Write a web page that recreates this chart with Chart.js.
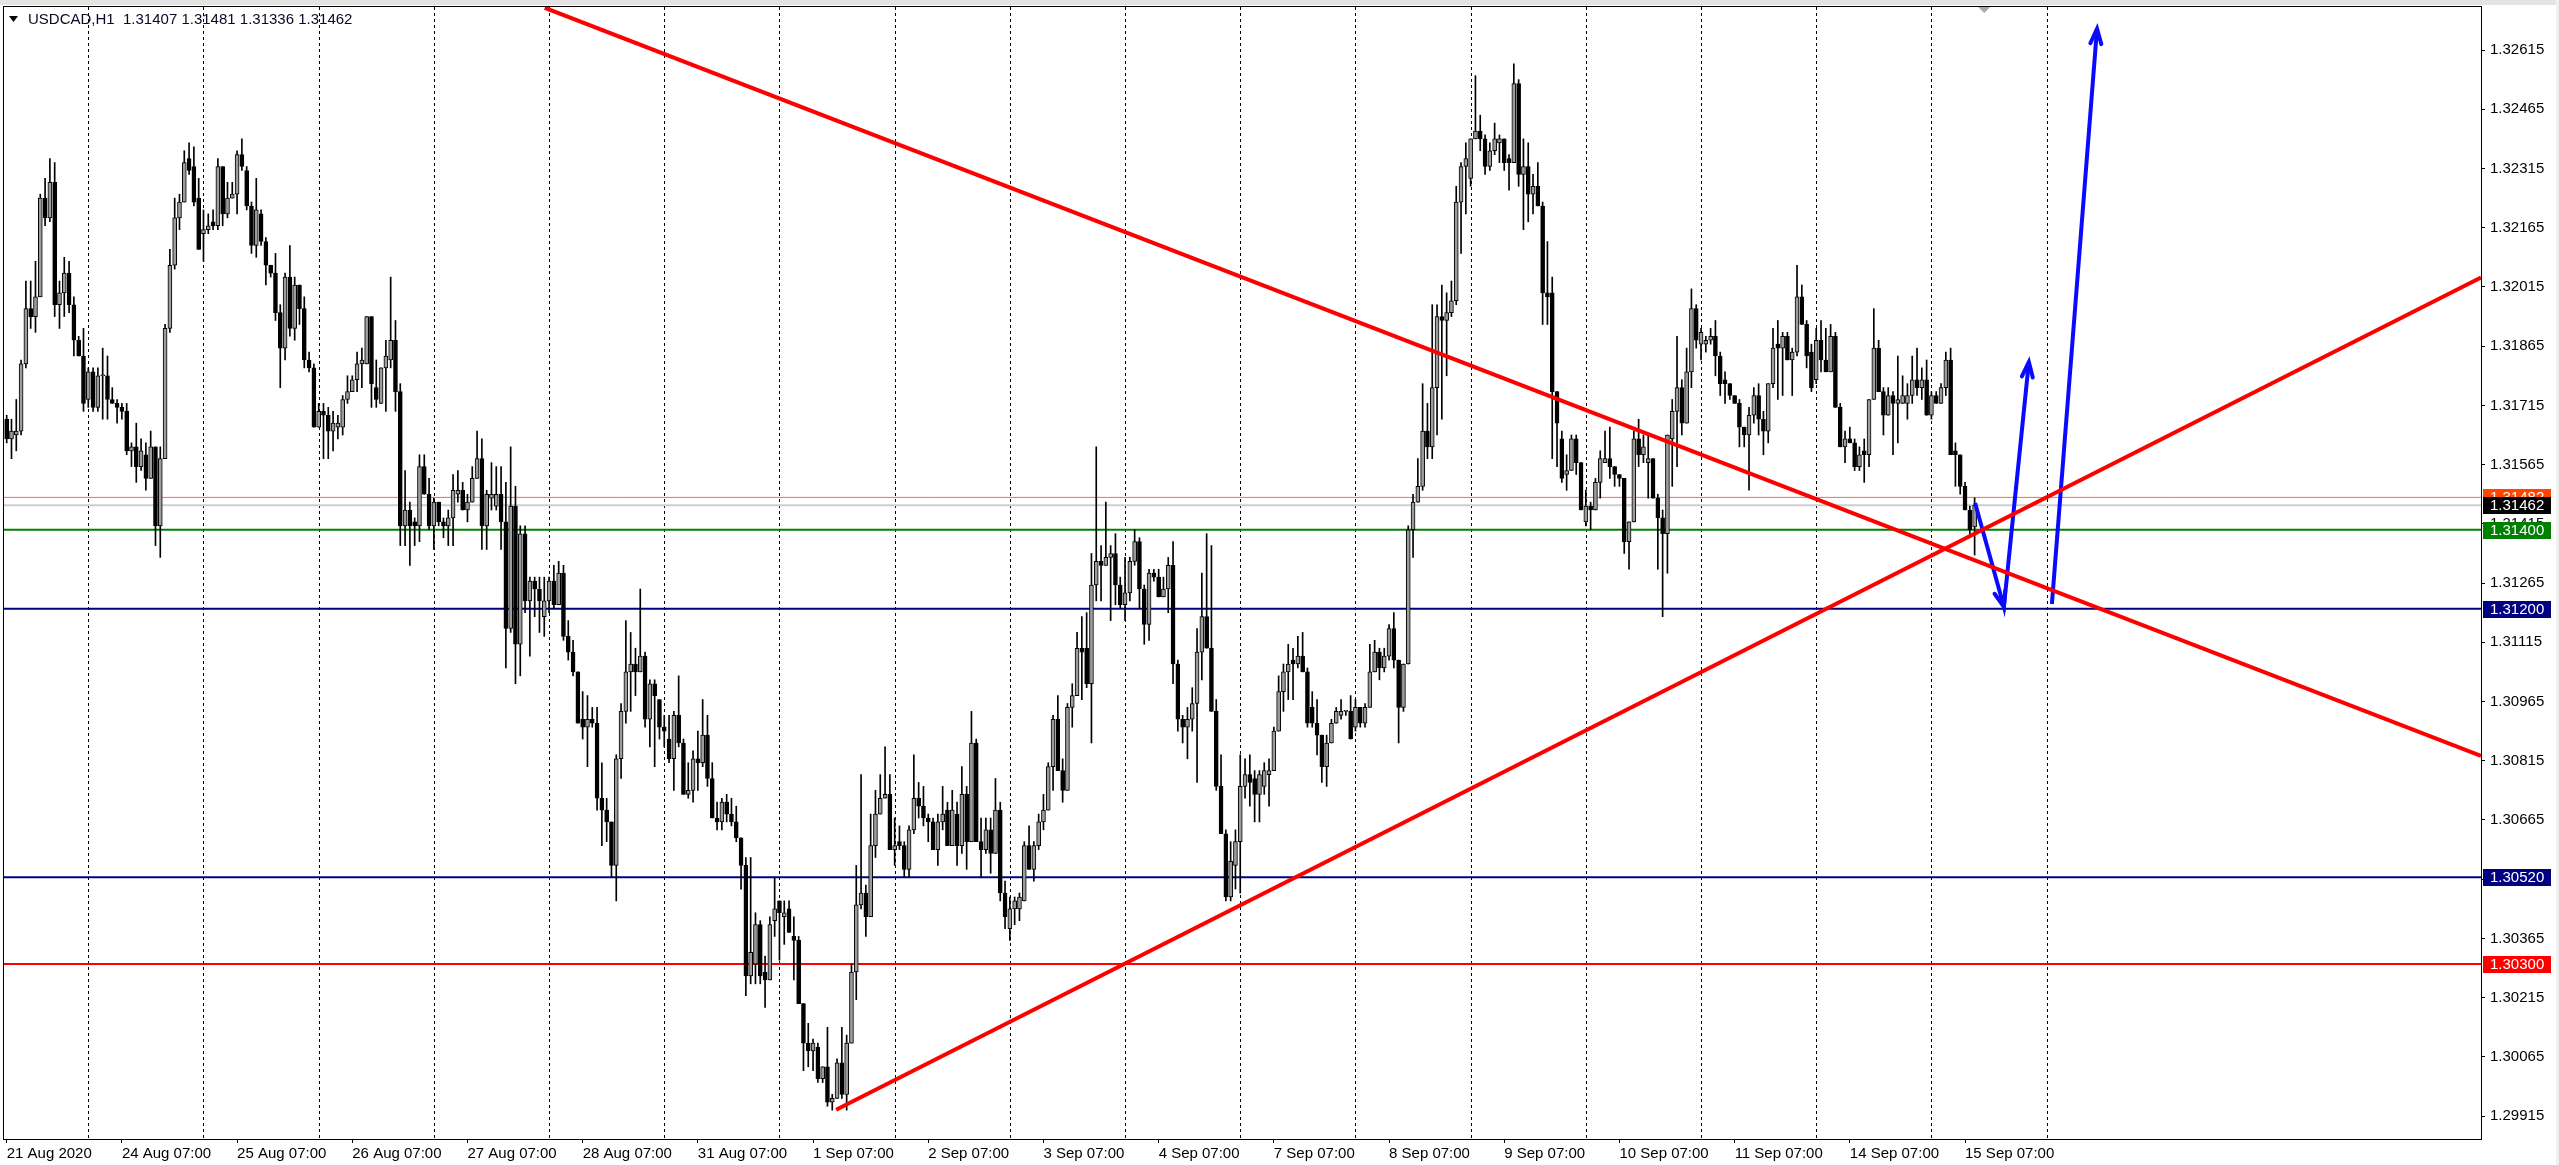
<!DOCTYPE html>
<html>
<head>
<meta charset="utf-8">
<script src="https://cdn.jsdelivr.net/npm/chart.js@4.4.1/dist/chart.umd.min.js"></script>
<style>
  html, body { margin: 0; padding: 0; background: #fff; overflow: hidden; }
</style>
</head>
<body>
<canvas id="myChart" width="2559" height="1165"></canvas>
<script>
// ---- data ----
const symbolTitle = 'USDCAD,H1';
const lastQuote = ['1.31407', '1.31481', '1.31336', '1.31462'];
const firstLabel = '21 Aug 2020';
const dayNames = ['24 Aug', '25 Aug', '26 Aug', '27 Aug', '28 Aug', '31 Aug', '1 Sep', '2 Sep', '3 Sep',
                  '4 Sep', '7 Sep', '8 Sep', '9 Sep', '10 Sep', '11 Sep', '14 Sep', '15 Sep', '16 Sep'];
const firstMidnightBar = 17;   // bar index of 24 Aug 00:00, H1 bars
const barsPerDay = 24;
const labelHour = 7;

const opens = [
  1.3168,1.3163,1.3164,1.3165,1.3182,1.3196,1.3194,1.3199,1.3224,1.3219,
  1.3228,1.3197,1.3200,1.3205,1.3197,1.3188,1.3184,1.3173,1.3180,1.3171,
  1.3179,1.3179,1.3173,1.3172,1.3171,1.3170,1.3160,1.3161,1.3156,1.3159,
  1.3153,1.3161,1.3141,1.3158,1.3191,1.3207,1.3219,1.3223,1.3234,1.3232,
  1.3224,1.3215,1.3216,1.3218,1.3217,1.3232,1.3220,1.3224,1.3225,1.3235,
  1.3231,1.3222,1.3212,1.3220,1.3213,1.3207,1.3205,1.3195,1.3186,1.3204,
  1.3191,1.3202,1.3196,1.3183,1.3181,1.3166,1.3170,1.3169,1.3165,1.3166,
  1.3166,1.3173,1.3175,1.3178,1.3182,1.3182,1.3194,1.3176,1.3172,1.3181,
  1.3183,1.3188,1.3175,1.3141,1.3145,1.3142,1.3141,1.3156,1.3149,1.3141,
  1.3147,1.3142,1.3141,1.3143,1.3149,1.3150,1.3145,1.3147,1.3153,1.3158,
  1.3141,1.3148,1.3146,1.3149,1.3142,1.3115,1.3146,1.3111,1.3139,1.3122,
  1.3127,1.3125,1.3118,1.3122,1.3127,1.3121,1.3129,1.3113,1.3109,1.3104,
  1.3092,1.3090,1.3092,1.3091,1.3072,1.3069,1.3066,1.3055,1.3082,1.3094,
  1.3104,1.3106,1.3104,1.3108,1.3092,1.3101,1.3097,1.3090,1.3087,1.3082,
  1.3093,1.3086,1.3073,1.3074,1.3082,1.3081,1.3088,1.3077,1.3067,1.3066,
  1.3071,1.3068,1.3066,1.3062,1.3055,1.3027,1.3030,1.3040,1.3028,1.3026,
  1.3041,1.3046,1.3042,1.3044,1.3037,1.3036,1.3020,1.3010,1.3008,1.3009,
  1.3001,1.3004,1.2995,1.2996,1.3005,1.2997,1.3010,1.3028,1.3045,1.3048,
  1.3042,1.3060,1.3068,1.3072,1.3073,1.3059,1.3061,1.3060,1.3054,1.3064,
  1.3072,1.3070,1.3067,1.3066,1.3059,1.3066,1.3069,1.3060,1.3068,1.3060,
  1.3073,1.3061,1.3086,1.3061,1.3059,1.3064,1.3058,1.3069,1.3048,1.3039,
  1.3044,1.3044,1.3046,1.3060,1.3054,1.3060,1.3066,1.3069,1.3080,1.3092,
  1.3079,1.3074,1.3095,1.3098,1.3110,1.3110,1.3101,1.3126,1.3132,1.3131,
  1.3133,1.3134,1.3126,1.3121,1.3124,1.3132,1.3137,1.3125,1.3116,1.3129,
  1.3128,1.3123,1.3125,1.3131,1.3106,1.3092,1.3090,1.3092,1.3096,1.3109,
  1.3118,1.3110,1.3094,1.3075,1.3063,1.3047,1.3055,1.3061,1.3075,1.3078,
  1.3077,1.3073,1.3075,1.3078,1.3079,1.3089,1.3099,1.3104,1.3107,1.3106,
  1.3108,1.3104,1.3095,1.3091,1.3088,1.3080,1.3086,1.3091,1.3093,1.3094,
  1.3094,1.3090,1.3095,1.3091,1.3095,1.3104,1.3109,1.3105,1.3108,1.3115,
  1.3107,1.3095,1.3106,1.3140,1.3147,1.3151,1.3165,1.3161,1.3176,1.3194,
  1.3193,1.3195,1.3198,1.3223,1.3232,1.3229,1.3239,1.3241,1.3239,1.3232,
  1.3236,1.3238,1.3239,1.3234,1.3233,1.3253,1.3230,1.3232,1.3225,1.3227,
  1.3222,1.3200,1.3200,1.3175,1.3163,1.3154,1.3155,1.3163,1.3157,1.3142,
  1.3146,1.3145,1.3152,1.3157,1.3158,1.3156,1.3154,1.3153,1.3137,1.3142,
  1.3163,1.3159,1.3157,1.3158,1.3148,1.3143,1.3139,1.3163,1.3170,1.3176,
  1.3167,1.3180,1.3196,1.3187,1.3187,1.3188,1.3189,1.3184,1.3178,1.3177,
  1.3174,1.3172,1.3166,1.3164,1.3169,1.3174,1.3168,1.3165,1.3177,1.3187,
  1.3186,1.3189,1.3183,1.3185,1.3199,1.3192,1.3185,1.3178,1.3188,1.3183,
  1.3180,1.3189,1.3171,1.3161,1.3163,1.3162,1.3156,1.3160,1.3159,1.3173,
  1.3186,1.3175,1.3169,1.3174,1.3172,1.3172,1.3172,1.3174,1.3178,1.3176,
  1.3178,1.3169,1.3174,1.3172,1.3176,1.3183,1.3160,1.3159,1.3151,1.3145,
  1.31407
];
const highs = [
  1.3169,1.3168,1.3173,1.3183,1.3203,1.3203,1.3208,1.3225,1.3229,1.3234,
  1.3233,1.3203,1.3209,1.3208,1.3199,1.3189,1.3191,1.3181,1.3181,1.3181,
  1.3186,1.3184,1.3176,1.3173,1.3172,1.3172,1.3162,1.3167,1.3163,1.3162,
  1.3165,1.3161,1.3161,1.3192,1.3211,1.3224,1.3225,1.3236,1.3238,1.3237,
  1.3229,1.3221,1.3220,1.3221,1.3234,1.3232,1.3228,1.3228,1.3236,1.3239,
  1.3232,1.3223,1.3229,1.3221,1.3214,1.3207,1.3210,1.3197,1.3205,1.3212,
  1.3204,1.3202,1.3199,1.3185,1.3182,1.3172,1.3172,1.3171,1.3170,1.3169,
  1.3174,1.3179,1.3179,1.3185,1.3186,1.3194,1.3194,1.3183,1.3181,1.3188,
  1.3204,1.3193,1.3177,1.3155,1.3147,1.3143,1.3159,1.3159,1.3153,1.3148,
  1.3147,1.3143,1.3145,1.3154,1.3155,1.3152,1.3149,1.3156,1.3165,1.3163,
  1.3150,1.3157,1.3156,1.3156,1.3152,1.3161,1.3151,1.3141,1.3141,1.3128,
  1.3128,1.3128,1.3128,1.3128,1.3131,1.3132,1.3131,1.3117,1.3112,1.3104,
  1.3099,1.3098,1.3095,1.3095,1.3081,1.3072,1.3066,1.3083,1.3096,1.3117,
  1.3114,1.3110,1.3125,1.3109,1.3102,1.3102,1.3097,1.3093,1.3093,1.3094,
  1.3103,1.3087,1.3081,1.3084,1.3089,1.3097,1.3093,1.3081,1.3071,1.3072,
  1.3073,1.3072,1.3070,1.3062,1.3057,1.3057,1.3043,1.3041,1.3032,1.3042,
  1.3052,1.3046,1.3046,1.3046,1.3042,1.3037,1.3020,1.3015,1.3011,1.3010,
  1.3004,1.3014,1.2997,1.3006,1.3014,1.3012,1.3030,1.3055,1.3078,1.3050,
  1.3068,1.3074,1.3078,1.3085,1.3078,1.3067,1.3065,1.3061,1.3065,1.3083,
  1.3076,1.3075,1.3068,1.3067,1.3068,1.3075,1.3071,1.3074,1.3071,1.3080,
  1.3075,1.3094,1.3087,1.3067,1.3067,1.3067,1.3077,1.3071,1.3051,1.3047,
  1.3047,1.3048,1.3061,1.3065,1.3061,1.3068,1.3073,1.3081,1.3093,1.3098,
  1.3082,1.3096,1.3101,1.3114,1.3118,1.3119,1.3134,1.3161,1.3136,1.3147,
  1.3136,1.3139,1.3128,1.3133,1.3133,1.3140,1.3138,1.3126,1.3130,1.3130,
  1.3130,1.3128,1.3133,1.3137,1.3107,1.3093,1.3095,1.3100,1.3115,1.3129,
  1.3139,1.3136,1.3097,1.3083,1.3064,1.3061,1.3064,1.3083,1.3082,1.3083,
  1.3079,1.3079,1.3081,1.3082,1.3090,1.3103,1.3106,1.3111,1.3110,1.3113,
  1.3114,1.3105,1.3099,1.3097,1.3088,1.3088,1.3092,1.3095,1.3097,1.3094,
  1.3098,1.3097,1.3095,1.3096,1.3111,1.3112,1.3110,1.3110,1.3116,1.3119,
  1.3107,1.3106,1.3141,1.3149,1.3158,1.3177,1.3172,1.3197,1.3197,1.3202,
  1.3200,1.3203,1.3227,1.3233,1.3238,1.3239,1.3255,1.3245,1.3240,1.3238,
  1.3243,1.3240,1.3239,1.3235,1.3258,1.3254,1.3239,1.3238,1.3230,1.3233,
  1.3223,1.3213,1.3204,1.3175,1.3165,1.3159,1.3164,1.3164,1.3157,1.3150,
  1.3147,1.3153,1.3160,1.3165,1.3166,1.3156,1.3154,1.3153,1.3142,1.3165,
  1.3168,1.3164,1.3164,1.3158,1.3149,1.3145,1.3164,1.3173,1.3189,1.3178,
  1.3186,1.3201,1.3197,1.3191,1.3189,1.3191,1.3193,1.3185,1.3180,1.3177,
  1.3174,1.3173,1.3166,1.3171,1.3176,1.3177,1.3170,1.3177,1.3191,1.3193,
  1.3190,1.3190,1.3186,1.3207,1.3202,1.3193,1.3187,1.3191,1.3193,1.3191,
  1.3192,1.3190,1.3172,1.3165,1.3166,1.3163,1.3161,1.3163,1.3173,1.3196,
  1.3188,1.3176,1.3176,1.3175,1.3184,1.3179,1.3177,1.3184,1.3186,1.3181,
  1.3183,1.3175,1.3175,1.3177,1.3185,1.3186,1.3162,1.3159,1.3152,1.3146,
  1.31481
];
const lows = [
  1.3162,1.3158,1.3160,1.3164,1.3181,1.3191,1.3190,1.3199,1.3217,1.3218,
  1.3194,1.3191,1.3194,1.3195,1.3184,1.3184,1.3170,1.3171,1.3170,1.3170,
  1.3168,1.3168,1.3172,1.3167,1.3168,1.3159,1.3156,1.3152,1.3155,1.3150,
  1.3153,1.3136,1.3133,1.3158,1.3190,1.3206,1.3216,1.3223,1.3230,1.3222,
  1.3211,1.3208,1.3215,1.3216,1.3216,1.3217,1.3219,1.3224,1.3220,1.3231,
  1.3221,1.3210,1.3209,1.3212,1.3202,1.3204,1.3193,1.3176,1.3183,1.3189,
  1.3188,1.3192,1.3181,1.3180,1.3166,1.3166,1.3158,1.3158,1.3160,1.3163,
  1.3164,1.3172,1.3175,1.3175,1.3176,1.3182,1.3171,1.3171,1.3172,1.3170,
  1.3181,1.3170,1.3136,1.3136,1.3131,1.3136,1.3137,1.3149,1.3140,1.3135,
  1.3141,1.3138,1.3136,1.3136,1.3147,1.3145,1.3142,1.3147,1.3153,1.3135,
  1.3135,1.3145,1.3145,1.3135,1.3105,1.3114,1.3101,1.3103,1.3119,1.3108,
  1.3118,1.3114,1.3113,1.3119,1.3120,1.3121,1.3112,1.3107,1.3103,1.3091,
  1.3087,1.3080,1.3090,1.3069,1.3060,1.3061,1.3052,1.3046,1.3077,1.3091,
  1.3094,1.3098,1.3104,1.3090,1.3085,1.3080,1.3087,1.3085,1.3081,1.3074,
  1.3085,1.3073,1.3072,1.3071,1.3074,1.3080,1.3075,1.3067,1.3064,1.3064,
  1.3066,1.3065,1.3061,1.3049,1.3022,1.3025,1.3025,1.3025,1.3019,1.3026,
  1.3037,1.3031,1.3035,1.3038,1.3026,1.3020,1.3003,1.3004,1.3003,1.3000,
  1.3000,1.2994,1.2993,1.2996,1.2996,1.2993,1.3010,1.3021,1.3044,1.3037,
  1.3042,1.3057,1.3068,1.3072,1.3059,1.3055,1.3059,1.3052,1.3052,1.3063,
  1.3067,1.3065,1.3061,1.3059,1.3055,1.3064,1.3060,1.3060,1.3055,1.3058,
  1.3054,1.3061,1.3061,1.3052,1.3058,1.3053,1.3058,1.3046,1.3039,1.3036,
  1.3040,1.3041,1.3046,1.3054,1.3051,1.3059,1.3064,1.3069,1.3074,1.3079,
  1.3071,1.3074,1.3090,1.3098,1.3097,1.3100,1.3086,1.3122,1.3122,1.3131,
  1.3117,1.3121,1.3120,1.3117,1.3122,1.3131,1.3120,1.3111,1.3112,1.3127,
  1.3123,1.3123,1.3119,1.3101,1.3089,1.3086,1.3082,1.3089,1.3076,1.3102,
  1.3110,1.3094,1.3074,1.3063,1.3046,1.3046,1.3049,1.3048,1.3072,1.3070,
  1.3066,1.3066,1.3073,1.3070,1.3079,1.3089,1.3094,1.3097,1.3097,1.3105,
  1.3104,1.3090,1.3090,1.3083,1.3076,1.3075,1.3086,1.3091,1.3092,1.3093,
  1.3087,1.3089,1.3090,1.3090,1.3095,1.3104,1.3102,1.3104,1.3107,1.3105,
  1.3086,1.3094,1.3106,1.3133,1.3147,1.3150,1.3158,1.3158,1.3164,1.3168,
  1.3179,1.3194,1.3197,1.3210,1.3220,1.3227,1.3239,1.3236,1.3230,1.3231,
  1.3235,1.3233,1.3231,1.3226,1.3233,1.3227,1.3216,1.3218,1.3220,1.3222,
  1.3192,1.3192,1.3158,1.3156,1.3152,1.3150,1.3155,1.3154,1.3145,1.3141,
  1.3140,1.3145,1.3148,1.3157,1.3153,1.3151,1.3151,1.3134,1.3130,1.3142,
  1.3156,1.3157,1.3148,1.3148,1.3130,1.3118,1.3129,1.3151,1.3156,1.3164,
  1.3167,1.3176,1.3186,1.3183,1.3185,1.3187,1.3179,1.3174,1.3172,1.3173,
  1.3172,1.3161,1.3161,1.3150,1.3167,1.3164,1.3159,1.3162,1.3176,1.3173,
  1.3174,1.3183,1.3174,1.3184,1.3192,1.3181,1.3175,1.3177,1.3180,1.3180,
  1.3180,1.3171,1.3161,1.3157,1.3162,1.3155,1.3155,1.3152,1.3156,1.3173,
  1.3175,1.3164,1.3169,1.3159,1.3162,1.3172,1.3168,1.3172,1.3174,1.3173,
  1.3169,1.3168,1.3172,1.3172,1.3174,1.3159,1.3151,1.3149,1.3145,1.3138,
  1.31336
];
const closes = [
  1.3163,1.3165,1.3165,1.3182,1.3196,1.3194,1.3199,1.3224,1.3219,1.3228,
  1.3197,1.3200,1.3205,1.3197,1.3188,1.3184,1.3172,1.3180,1.3171,1.3179,
  1.3179,1.3173,1.3172,1.3171,1.3170,1.3160,1.3161,1.3156,1.3160,1.3153,
  1.3161,1.3141,1.3158,1.3191,1.3207,1.3219,1.3223,1.3233,1.3231,1.3223,
  1.3211,1.3216,1.3217,1.3217,1.3232,1.3220,1.3224,1.3225,1.3235,1.3232,
  1.3222,1.3212,1.3221,1.3213,1.3207,1.3205,1.3195,1.3186,1.3204,1.3191,
  1.3202,1.3196,1.3183,1.3181,1.3166,1.3170,1.3169,1.3165,1.3167,1.3167,
  1.3173,1.3175,1.3178,1.3182,1.3183,1.3194,1.3177,1.3173,1.3181,1.3184,
  1.3188,1.3175,1.3141,1.3145,1.3141,1.3141,1.3156,1.3149,1.3141,1.3147,
  1.3142,1.3141,1.3143,1.3150,1.3150,1.3145,1.3147,1.3153,1.3158,1.3141,
  1.3149,1.3149,1.3149,1.3142,1.3115,1.3146,1.3111,1.3139,1.3122,1.3127,
  1.3125,1.3122,1.3122,1.3127,1.3121,1.3129,1.3113,1.3109,1.3104,1.3091,
  1.3090,1.3092,1.3091,1.3072,1.3069,1.3066,1.3055,1.3082,1.3094,1.3104,
  1.3106,1.3104,1.3108,1.3092,1.3101,1.3098,1.3090,1.3089,1.3082,1.3093,
  1.3086,1.3073,1.3074,1.3082,1.3081,1.3088,1.3077,1.3067,1.3066,1.3071,
  1.3068,1.3066,1.3062,1.3055,1.3027,1.3033,1.3040,1.3027,1.3026,1.3040,
  1.3044,1.3043,1.3043,1.3038,1.3036,1.3020,1.3010,1.3008,1.3010,1.3001,
  1.3004,1.2995,1.2996,1.3005,1.2997,1.3010,1.3028,1.3045,1.3048,1.3042,
  1.3060,1.3068,1.3072,1.3073,1.3059,1.3060,1.3060,1.3054,1.3064,1.3072,
  1.3070,1.3067,1.3066,1.3059,1.3066,1.3068,1.3060,1.3069,1.3060,1.3073,
  1.3061,1.3086,1.3061,1.3059,1.3064,1.3058,1.3069,1.3048,1.3042,1.3044,
  1.3046,1.3047,1.3060,1.3054,1.3060,1.3066,1.3069,1.3080,1.3092,1.3079,
  1.3074,1.3095,1.3098,1.3110,1.3109,1.3101,1.3126,1.3132,1.3131,1.3133,
  1.3134,1.3126,1.3121,1.3124,1.3132,1.3137,1.3125,1.3116,1.3129,1.3128,
  1.3123,1.3125,1.3131,1.3106,1.3092,1.3090,1.3092,1.3096,1.3109,1.3118,
  1.3110,1.3094,1.3075,1.3063,1.3047,1.3056,1.3061,1.3075,1.3078,1.3076,
  1.3073,1.3078,1.3079,1.3079,1.3089,1.3099,1.3104,1.3106,1.3106,1.3108,
  1.3104,1.3091,1.3091,1.3088,1.3080,1.3086,1.3091,1.3094,1.3094,1.3094,
  1.3087,1.3095,1.3091,1.3095,1.3104,1.3109,1.3105,1.3108,1.3115,1.3107,
  1.3095,1.3106,1.3140,1.3147,1.3151,1.3165,1.3161,1.3176,1.3194,1.3193,
  1.3195,1.3198,1.3223,1.3232,1.3234,1.3239,1.3241,1.3239,1.3232,1.3236,
  1.3239,1.3239,1.3233,1.3233,1.3253,1.3230,1.3232,1.3225,1.3227,1.3222,
  1.3200,1.3199,1.3175,1.3167,1.3153,1.3155,1.3163,1.3157,1.3145,1.3146,
  1.3145,1.3152,1.3158,1.3158,1.3156,1.3154,1.3153,1.3137,1.3142,1.3163,
  1.3159,1.3161,1.3158,1.3148,1.3143,1.3139,1.3164,1.3170,1.3176,1.3167,
  1.3180,1.3196,1.3188,1.3190,1.3188,1.3189,1.3184,1.3177,1.3177,1.3174,
  1.3172,1.3166,1.3164,1.3169,1.3174,1.3168,1.3165,1.3177,1.3186,1.3186,
  1.3189,1.3183,1.3185,1.3199,1.3192,1.3184,1.3176,1.3188,1.3183,1.3180,
  1.3189,1.3171,1.3161,1.3163,1.3162,1.3156,1.3159,1.3159,1.3173,1.3186,
  1.3175,1.3169,1.3174,1.3172,1.3173,1.3174,1.3174,1.3178,1.3176,1.3178,
  1.3169,1.3174,1.3172,1.3176,1.3183,1.3159,1.3159,1.3151,1.3145,1.3140,
  1.31462
];

const yTicks = [1.29915, 1.30065, 1.30215, 1.30365, 1.30515, 1.30665, 1.30815, 1.30965, 1.31115, 1.31265,
                1.31415, 1.31565, 1.31715, 1.31865, 1.32015, 1.32165, 1.32315, 1.32465, 1.32615];

// horizontal levels (price) and their styles
const levelPrices = [1.31482, 1.31462, 1.31400, 1.31200, 1.30520, 1.30300];
const levelLineColors = ['#ff6a40', '#cfcfcf', '#008000', '#000080', '#000080', '#ff0000'];
const levelBoxColors = ['#ff4500', '#000000', '#008000', '#000080', '#000080', '#ff0000'];
const levelWidths = [1, 2, 2, 2, 2, 2];

// trend lines: [bar index, price] anchor pairs
const trendDownBars = [112.1, 515.5];
const trendDownPrices = [1.32722, 1.30827];
const trendUpBars = [172.8, 515.5];
const trendUpPrices = [1.29931, 1.32039];

// hand-drawn blue arrows: [bar index, price] path, head at each segment end
const arrowOneBars = [410.1, 416.1, 421.3];
const arrowOnePrices = [1.31468, 1.31205, 1.31825];
const arrowTwoBars = [426.1, 435.5];
const arrowTwoPrices = [1.31212, 1.32669];

// visible window
const xMin = -0.56, xMax = 515.5;
const yMin = 1.29857, yMax = 1.32724;

// ---- build datasets ----
const labelBars = [0];
const labelTexts = [firstLabel];
for (let k = 0; k < dayNames.length - 1; k++) {
    labelBars.push(firstMidnightBar + k * barsPerDay + labelHour);
    labelTexts.push(dayNames[k] + ' 07:00');
}
const gridBars = dayNames.map((d, k) => firstMidnightBar + k * barsPerDay);

let wickData = [];
let bodyData = [];
let bodyColors = [];
for (let i = 0; i < opens.length; i++) {
    wickData.push({ x: i, y: [lows[i], highs[i]] });
    bodyData.push({ x: i, y: [opens[i], closes[i]] });
    bodyColors.push(closes[i] >= opens[i] ? '#9c9c9c' : '#000000');
}

let datasets = [];

levelPrices.forEach((p, k) => {
    datasets.push({
        type: 'line',
        data: [{ x: xMin, y: p }, { x: xMax, y: p }],
        borderColor: levelLineColors[k],
        borderWidth: levelWidths[k],
        pointRadius: 0,
        order: 3
    });
});

datasets.push({
    type: 'bar',
    data: wickData,
    backgroundColor: '#000',
    barThickness: 1,
    grouped: false,
    order: 2
});
datasets.push({
    type: 'bar',
    data: bodyData,
    backgroundColor: bodyColors,
    borderColor: '#000',
    borderWidth: 1,
    borderSkipped: false,
    barThickness: 4,
    minBarLength: 1,
    grouped: false,
    order: 1
});

function pathData(bars, prices) {
    return bars.map((b, k) => ({ x: b, y: prices[k] }));
}

datasets.push({ type: 'line', data: pathData(trendDownBars, trendDownPrices), borderColor: '#ff0000', borderWidth: 4, pointRadius: 0, order: 0 });
datasets.push({ type: 'line', data: pathData(trendUpBars, trendUpPrices), borderColor: '#ff0000', borderWidth: 4, pointRadius: 0, order: 0 });
datasets.push({ type: 'line', data: pathData(arrowOneBars, arrowOnePrices), borderColor: '#0a0aff', borderWidth: 4, pointRadius: 0, order: 0, arrow: true });
datasets.push({ type: 'line', data: pathData(arrowTwoBars, arrowTwoPrices), borderColor: '#0a0aff', borderWidth: 4, pointRadius: 0, order: 0, arrow: true });

const fontFamily = '"Liberation Sans", Arial, sans-serif';

let mt4Plugin = {
    id: 'mt4',
    beforeDraw(chart) {
        let ctx = chart.ctx;
        ctx.save();
        ctx.fillStyle = '#ffffff';
        ctx.fillRect(0, 0, chart.width, chart.height);
        ctx.fillStyle = '#e4e4e4';
        ctx.fillRect(0, 0, chart.width, 5);
        ctx.fillStyle = '#f0f0f0';
        ctx.fillRect(2556, 0, 3, chart.height);
        ctx.restore();
    },
    beforeDatasetsDraw(chart) {
        let ctx = chart.ctx;
        let area = chart.chartArea;
        let xs = chart.scales.x;
        ctx.save();
        ctx.strokeStyle = '#000';
        ctx.lineWidth = 1;
        ctx.setLineDash([3, 3]);
        gridBars.forEach(b => {
            let px = Math.round(xs.getPixelForValue(b)) + 0.5;
            ctx.beginPath();
            ctx.moveTo(px, area.top);
            ctx.lineTo(px, area.bottom);
            ctx.stroke();
        });
        ctx.restore();
    },
    afterDatasetsDraw(chart) {
        let ctx = chart.ctx;
        let area = chart.chartArea;
        let xs = chart.scales.x, ys = chart.scales.y;
        ctx.save();
        ctx.beginPath();
        ctx.rect(area.left, area.top, area.right - area.left, area.bottom - area.top);
        ctx.clip();
        chart.data.datasets.forEach(ds => {
            if (!ds.arrow) return;
            ctx.strokeStyle = ds.borderColor;
            ctx.lineWidth = 4;
            ctx.lineCap = 'round';
            for (let k = 1; k < ds.data.length; k++) {
                let x0 = xs.getPixelForValue(ds.data[k - 1].x), y0 = ys.getPixelForValue(ds.data[k - 1].y);
                let x1 = xs.getPixelForValue(ds.data[k].x), y1 = ys.getPixelForValue(ds.data[k].y);
                let ang = Math.atan2(y1 - y0, x1 - x0);
                let len = 16;
                ctx.beginPath();
                ctx.moveTo(x1 - len * Math.cos(ang - 0.35), y1 - len * Math.sin(ang - 0.35));
                ctx.lineTo(x1, y1);
                ctx.lineTo(x1 - len * Math.cos(ang + 0.35), y1 - len * Math.sin(ang + 0.35));
                ctx.stroke();
            }
        });
        ctx.restore();
    },
    afterDraw(chart) {
        let ctx = chart.ctx;
        let area = chart.chartArea;
        let xs = chart.scales.x, ys = chart.scales.y;
        ctx.save();

        // frame
        ctx.strokeStyle = '#000';
        ctx.lineWidth = 1;
        ctx.strokeRect(area.left - 0.5, area.top - 0.5, area.right - area.left + 1, area.bottom - area.top + 1);

        // price boxes on the axis
        ctx.font = '15px ' + fontFamily;
        ctx.textBaseline = 'middle';
        ctx.textAlign = 'left';
        levelPrices.forEach((p, k) => {
            let py = ys.getPixelForValue(p);
            ctx.fillStyle = levelBoxColors[k];
            ctx.fillRect(area.right + 2, Math.round(py) - 8, 68, 17);
            ctx.fillStyle = '#fff';
            ctx.fillText(p.toFixed(5), area.right + 9, Math.round(py) + 1);
        });

        // title
        ctx.fillStyle = '#000';
        ctx.beginPath();
        ctx.moveTo(9, 16);
        ctx.lineTo(18, 16);
        ctx.lineTo(13.5, 22);
        ctx.closePath();
        ctx.fill();
        ctx.fillStyle = '#0a0a28';
        ctx.fillText(symbolTitle + '  ' + lastQuote.join(' '), 28, 20);

        // chart shift marker
        let sx = xs.getPixelForValue(opens.length + 1);
        ctx.fillStyle = '#a8a8a8';
        ctx.beginPath();
        ctx.moveTo(sx - 6, area.top);
        ctx.lineTo(sx + 6, area.top);
        ctx.lineTo(sx, area.top + 6);
        ctx.closePath();
        ctx.fill();

        ctx.restore();
    }
};

let ctx = document.getElementById('myChart').getContext('2d');

let myChart = new Chart(ctx, {
    type: 'bar',
    data: { datasets: datasets },
    options: {
        responsive: false,
        animation: false,
        events: [],
        layout: { padding: { left: 4, top: 7, right: 0, bottom: 0 } },
        plugins: { legend: { display: false }, tooltip: { enabled: false } },
        scales: {
            x: {
                type: 'linear',
                min: xMin,
                max: xMax,
                offset: false,
                afterFit(s) { s.height = 26; s.paddingLeft = 0; s.paddingRight = 0; },
                afterBuildTicks(s) { s.ticks = labelBars.map(v => ({ value: v })); },
                ticks: {
                    autoSkip: false,
                    maxRotation: 0,
                    minRotation: 0,
                    align: 'start',
                    padding: 2,
                    color: '#000',
                    font: { family: fontFamily, size: 15 },
                    callback: (v, idx) => labelTexts[idx]
                },
                grid: { drawOnChartArea: false, drawTicks: true, tickLength: 4, color: '#000', offset: false },
                border: { display: true, color: '#000' }
            },
            y: {
                type: 'linear',
                position: 'right',
                min: yMin,
                max: yMax,
                afterFit(s) { s.width = 78; s.paddingTop = 0; s.paddingBottom = 0; },
                afterBuildTicks(s) { s.ticks = yTicks.map(v => ({ value: v })); },
                ticks: {
                    padding: 5,
                    crossAlign: 'near',
                    color: '#000',
                    font: { family: fontFamily, size: 15 },
                    callback: v => v.toFixed(5)
                },
                grid: { drawOnChartArea: false, drawTicks: true, tickLength: 4, color: '#000' },
                border: { display: true, color: '#000' }
            }
        }
    },
    plugins: [mt4Plugin]
});
</script>
</body>
</html>
